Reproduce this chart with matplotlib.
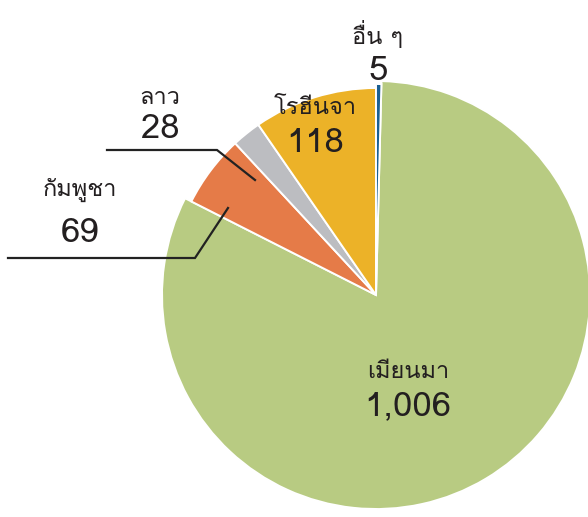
import matplotlib
matplotlib.use("Agg")
import matplotlib.pyplot as plt

# data
labels = ["อื่น ๆ", "เมียนมา", "กัมพูชา", "ลาว", "โรฮีนจา"]
values = [5, 1006, 69, 28, 118]
colors = ["#1A5F92", "#B8CB82", "#E57B48", "#BCBDC1", "#ECB228"]

thai = ["Loma", "DejaVu Sans"]
txt = "#231F20"

fig = plt.figure(figsize=(5.88, 5.17), dpi=100)
ax = fig.add_axes([0, 0, 1, 1])

# pie in pixel units, y going up
r = 207
wedges, _ = ax.pie(values, colors=colors, startangle=90, counterclock=False,
                   center=(376, 222), radius=r,
                   explode=[0, 5 / r, 0, 0, 0],
                   wedgeprops=dict(edgecolor="white", linewidth=1.4))
wedges[1].set_radius(214)  # big slice is a bit larger
wedges[0].set_radius(211)
wedges[0].set_zorder(wedges[1].get_zorder() + 1)
ax.set_xlim(0, 588)
ax.set_ylim(0, 517)
ax.set_aspect("equal")
ax.axis("off")

# label positions (x, y of name, y of number)
pos = {
    "อื่น ๆ": (378, 482, 446),
    "เมียนมา": (408, 145, 110),
    "กัมพูชา": (80, 327, 284),
    "ลาว": (160, 420, 388),
    "โรฮีนจา": (315, 410, 373),
}
for lab, val in zip(labels, values):
    x, y1, y2 = pos[lab]
    ax.text(x, y1, lab, ha="center", va="center", fontsize=17,
            family=thai, color=txt)
    ax.text(x, y2, f"{val:,}", ha="center", va="center", fontsize=25,
            family=thai, color=txt)

# leader lines
ax.plot([107, 217, 255], [367, 367, 337], color="#222222", lw=1.6,
        solid_joinstyle="miter")
ax.plot([8, 195, 228], [259, 259, 309], color="#222222", lw=1.6,
        solid_joinstyle="miter")

fig.savefig("out.png", dpi=100)
